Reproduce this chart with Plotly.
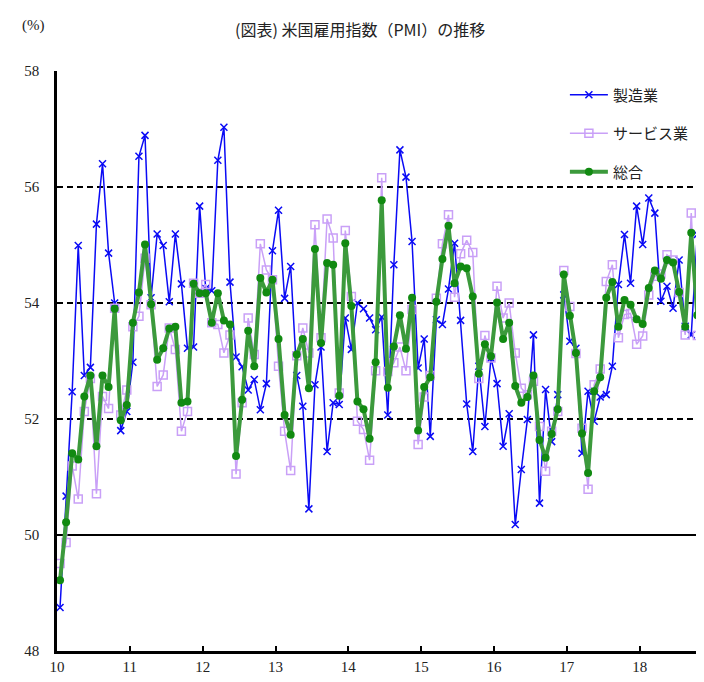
import plotly.graph_objects as go

# ---- data (monthly, Jan 2010 .. Nov 2018) ----
months = [f"{y}-{m:02d}" for y in range(2010, 2019) for m in range(1, 13)][:107]

manufacturing = [
    48.75, 50.67, 52.47, 54.99, 52.75, 52.89, 55.36, 56.40, 54.86, 54.00, 51.80, 52.13,
    52.98, 56.53, 56.89, 54.09, 55.19, 54.99, 54.02, 55.19, 54.33, 53.22, 53.24, 55.67,
    54.25, 54.21, 56.46, 57.03, 54.36, 53.07, 52.90, 52.50, 52.68, 52.16, 52.61, 54.90,
    55.60, 54.08, 54.63, 52.75, 52.22, 50.45, 52.59, 53.24, 51.44, 52.28, 52.25, 53.74,
    53.20, 54.00, 53.90, 53.74, 53.54, 53.76, 52.07, 54.66, 56.64, 56.17, 55.06, 52.88,
    53.38, 51.70, 53.71, 53.63, 54.24, 55.03, 53.70, 52.26, 51.44, 52.91, 51.87, 53.05,
    52.61, 51.53, 52.09, 50.18, 51.13, 51.99, 53.45, 50.55, 52.51, 51.61, 52.42, 54.14,
    53.34, 53.22, 51.41, 52.48, 51.96, 52.38, 52.42, 52.91, 54.32, 55.18, 54.34, 55.67,
    55.01, 55.81, 55.55, 54.03, 54.29, 53.91, 54.74, 53.60, 53.45, 55.18, 55.68,
]
services = [
    49.51, 49.87, 51.19, 50.62, 52.13, 52.70, 50.71, 52.39, 52.18, 53.91, 52.07, 52.50,
    53.59, 53.77, 54.77, 53.97, 52.56, 52.76, 53.57, 53.20, 51.79, 52.13, 54.34, 54.17,
    54.32, 53.66, 53.63, 53.14, 53.45, 51.05, 52.28, 53.74, 53.11, 55.02, 54.57, 54.40,
    52.91, 51.79, 51.11, 53.09, 53.57, 53.14, 55.35, 53.40, 55.45, 55.12, 52.45, 55.25,
    54.11, 51.96, 51.82, 51.29, 52.83, 56.16, 52.82, 52.97, 53.24, 52.83, 53.89, 51.56,
    52.38, 52.75, 54.08, 55.02, 55.52, 54.10, 54.85, 55.08, 54.87, 52.70, 53.44, 53.05,
    54.29, 53.74, 54.00, 53.14, 52.53, 52.42, 52.65, 51.87, 51.10, 51.79, 52.13, 54.56,
    53.94, 53.13, 51.84, 50.79, 52.59, 52.86, 54.37, 54.66, 53.40, 53.80, 53.82, 53.29,
    53.43, 54.14, 54.46, 54.50, 54.83, 54.74, 54.18, 53.45, 55.55, 53.44, 53.05,
]
composite = [
    49.22, 50.22, 51.41, 51.30, 52.39, 52.75, 51.53, 52.75, 52.55, 53.90, 51.98, 52.24,
    53.66, 54.18, 55.01, 53.98, 53.02, 53.22, 53.56, 53.59, 52.28, 52.30, 54.33, 54.17,
    54.17, 53.66, 54.17, 53.70, 53.63, 51.36, 52.33, 53.52, 52.91, 54.43, 54.18, 54.40,
    53.38, 52.07, 51.73, 53.11, 53.38, 52.53, 54.93, 53.31, 54.69, 54.66, 52.40, 55.03,
    53.95, 52.30, 52.17, 51.66, 52.98, 55.77, 52.54, 53.25, 53.79, 53.21, 54.09, 51.80,
    52.55, 52.72, 54.02, 54.76, 55.33, 54.34, 54.63, 54.60, 54.11, 52.78, 53.29, 53.08,
    54.01, 53.38, 53.66, 52.57, 52.28, 52.38, 52.75, 51.64, 51.33, 51.74, 52.17, 54.49,
    53.78, 53.14, 51.75, 51.07, 52.48, 52.72, 54.09, 54.36, 53.59, 54.05, 53.97, 53.72,
    53.64, 54.26, 54.56, 54.42, 54.74, 54.70, 54.19, 53.59, 55.21, 53.79, 53.34,
]
year_labels = ["10", "11", "12", "13", "14", "15", "16", "17", "18"]
y_ticks = [48, 50, 52, 54, 56, 58]
baseline = 50

x = list(range(len(months)))
year_tick_pos = [12 * k - 0.5 for k in range(len(year_labels))]

JP = "Noto Sans CJK JP"
NUM = "Liberation Serif"

fig = go.Figure()
fig.add_trace(go.Scatter(
    x=x, y=manufacturing, name="製造業", mode="lines+markers",
    line=dict(color="#0A0AF5", width=1.5),
    marker=dict(symbol="x-thin", size=7, line=dict(color="#0A0AF5", width=1.5)),
    legendgroup="a",
))
fig.add_trace(go.Scatter(
    x=x, y=services, name="サービス業", mode="lines+markers",
    line=dict(color="#C9A0F7", width=1.5),
    marker=dict(symbol="square-open", size=8, color="#C9A0F7", line=dict(width=1.5)),
    legendgroup="b",
))
fig.add_trace(go.Scatter(
    x=x, y=composite, name="総合", mode="lines+markers",
    line=dict(color="#3C9A3C", width=4),
    marker=dict(symbol="circle", size=8, color="#118A11"),
    legendgroup="c",
))

fig.add_shape(type="line", xref="paper", yref="y", x0=0, x1=1, y0=baseline, y1=baseline,
              line=dict(color="black", width=2), layer="below")

fig.update_layout(
    width=696, height=666,
    margin=dict(l=49, r=0, t=63, b=23),
    plot_bgcolor="white", paper_bgcolor="white",
    title=dict(text="(図表) 米国雇用指数（PMI）の推移", x=0.506, xref="container", xanchor="center",
               y=1 - 22 / 666, yanchor="middle", yref="container",
               font=dict(family=JP, size=16, color="#222")),
    showlegend=True,
    legend=dict(x=0.785, y=0.987, xanchor="left", yanchor="top", bgcolor="rgba(0,0,0,0)",
                font=dict(family=JP, size=15, color="#222"), itemwidth=38,
                tracegroupgap=16),
    xaxis=dict(range=[-0.5, 106.1], tickvals=year_tick_pos, ticktext=year_labels,
               showgrid=False, zeroline=False, showline=True, linecolor="black", linewidth=2.5,
               ticks="inside", ticklen=5, tickwidth=1.5, tickcolor="black",
               tickfont=dict(family=NUM, size=15, color="#222")),
    yaxis=dict(range=[48, 58], tickvals=y_ticks, showgrid=True, gridcolor="black", gridwidth=1.5,
               griddash="6px,4px", zeroline=False, showline=True, linecolor="black", linewidth=2.5,
               ticks="", ticklabelstandoff=12,
               tickfont=dict(family=NUM, size=15, color="#222")),
    annotations=[dict(text="(%)", xref="paper", yref="paper", x=-0.037, y=1.079,
                      xanchor="center", yanchor="middle", showarrow=False,
                      font=dict(family=NUM, size=15, color="#222"))],
)

fig.write_html("out.html")
